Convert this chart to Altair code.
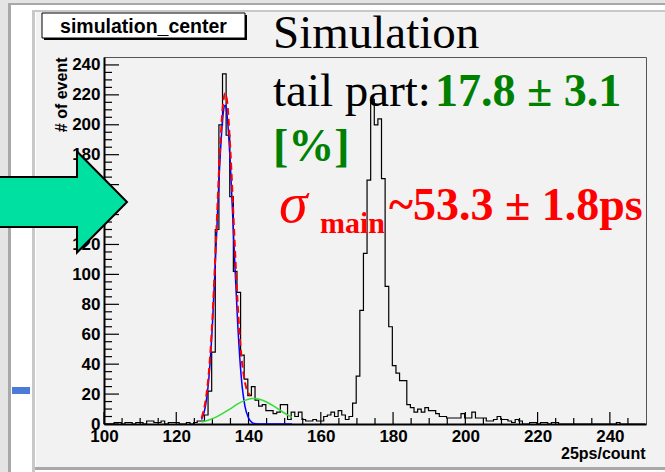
import altair as alt
import pandas as pd

# ---------------- data ----------------
bin_start = 99.8          # left edge of the first 1-unit bin
bin_width = 1.0
counts = [
    0, 0, 0, 1, 1, 0, 1, 1, 0, 1,            # 100-109
    1, 0, 2, 2, 1, 1, 2, 0, 1, 1,            # 110-119
    1, 0, 0, 1, 0, 1, 2, 2, 6, 22,           # 120-129
    48, 130, 200, 234, 193, 152, 102, 88, 46, 30,   # 130-139
    19, 25, 16, 12, 13, 9, 9, 7, 8, 13,      # 140-149
    13, 3, 8, 5, 8, 3, 2, 2, 3, 2,           # 150-159
    2, 5, 6, 8, 5, 9, 6, 3, 5, 14,           # 160-169
    32, 76, 114, 163, 217, 200, 204, 164, 92, 65,   # 170-179
    39, 34, 29, 29, 13, 11, 8, 10, 8, 11,    # 180-189
    9, 9, 7, 5, 5, 4, 4, 4, 4, 7,            # 190-199
    4, 4, 8, 4, 4, 4, 2, 2, 3, 5,            # 200-209
    3, 3, 2, 1, 3, 2, 0, 0, 1, 1,            # 210-219
    0, 1, 1, 0, 1, 1, 0, 0, 0, 0,            # 220-229
    0, 0, 0, 0, 0, 0, 0, 0, 0, 0,            # 230-239
    0, 0, 1, 0, 0, 0, 0, 0, 0, 0,            # 240-249
]

# fit curves
main_x = [127, 128, 129, 130, 131, 132, 133, 133.5, 134, 135, 136, 137, 138, 139, 140, 141, 142, 143, 146, 149, 152]
main_y = [3, 11, 30, 66, 118, 172, 208, 213, 208, 172, 118, 67, 31, 12, 4, 1, 0.2, 0, 0, 0, 0]

tail_x = [127, 129, 131, 133, 135, 137, 139, 141, 143, 145, 147, 149, 151, 152]
tail_y = [1.4, 2.7, 4.6, 7.2, 10.3, 13.4, 15.8, 17.0, 16.5, 14.7, 11.9, 8.7, 5.8, 4.6]

total_x = [127, 128, 129, 130, 131, 132, 133, 133.5, 134, 135, 136, 137, 138, 139, 140, 140.5]
total_y = [4, 14, 34, 70, 123, 178, 215, 221, 217, 182, 130, 80, 46, 28, 20.5, 19]

x_major = [100, 120, 140, 160, 180, 200, 220, 240]
x_minor = [v for v in range(105, 250, 5) if v % 20 != 0]
y_major = [0, 20, 40, 60, 80, 100, 120, 140, 160, 180, 200, 220, 240]
y_minor = [v for v in range(5, 245, 5) if v % 20 != 0]

title_text = "simulation_center"
x_title = "25ps/count"
y_title = "# of event"

# ---------------- layout ----------------
W, H = 665, 472
OX, OY = 104, 57           # plot origin in the window
PW, PH = 542, 367          # plot size

def px(x):
    return x - OX

def py(y):
    return y - OY

one = pd.DataFrame({"k": [0]})
xs = alt.Scale(domain=[100, 250], nice=False, zero=False)
ys = alt.Scale(domain=[0, 245.3], nice=False, zero=False)

SANS = "Liberation Sans"
SERIF = "Liberation Serif"

x_axis = alt.Axis(values=x_major, format="d", ticks=False, tickSize=0, grid=False,
                  domainColor="black", domainWidth=2, labelFlush=False, labelOverlap=False,
                  labelFont=SANS, labelFontWeight="bold", labelFontSize=17, labelColor="black",
                  labelPadding=4, labelBaseline="top",
                  title=x_title, titleFont=SANS, titleFontWeight="bold", titleFontSize=16,
                  titleColor="black", titleX=PW - 1, titleY=34, titleAlign="right",
                  titleBaseline="alphabetic")
y_axis = alt.Axis(values=y_major, format="d", ticks=False, tickSize=0, grid=False,
                  domainColor="black", domainWidth=2, labelFlush=False, labelOverlap=False,
                  labelFont=SANS, labelFontWeight="bold", labelFontSize=17, labelColor="black",
                  labelPadding=4,
                  title=y_title, titleFont=SANS, titleFontWeight="bold", titleFontSize=16,
                  titleColor="black", titleAngle=270, titleX=61 - OX, titleY=0,
                  titleAlign="right", titleBaseline="middle")


def rect(x1, x2, y1, y2, **kw):
    return alt.Chart(one).mark_rect(**kw).encode(
        x=alt.value(px(x1)), x2=alt.value(px(x2)),
        y=alt.value(py(y1)), y2=alt.value(py(y2)))


def text(t, x, y, **kw):
    return alt.Chart(one).mark_text(text=t, align="left", baseline="alphabetic", **kw).encode(
        x=alt.value(px(x)), y=alt.value(py(y)))


# histogram (first layer: carries the axes)
hist_df = pd.DataFrame({
    "x": [bin_start + i * bin_width for i in range(len(counts) + 1)],
    "n": counts + [0],
})
hist = alt.Chart(hist_df).mark_line(interpolate="step-after", color="black",
                                    strokeWidth=1.2, clip=True).encode(
    x=alt.X("x:Q", scale=xs, axis=x_axis, title=x_title),
    y=alt.Y("n:Q", scale=ys, axis=y_axis, title=y_title),
)

# window decoration (kept outside the axis area)
deco = [
    rect(0, 36, 0, 472, color="white"),
    rect(0, 8, 0, 472, color="#e4e4e4"),
    rect(8, 11, 0, 472, color="#a8a8a8"),
    rect(32, 35, 10, 472, color="#c8c8c8"),
    rect(0, 665, 0, 3, color="#e4e4e4"),
    rect(8, 665, 3, 5, color="#a8a8a8"),
    rect(11, 665, 5, 10, color="white"),
    rect(32, 665, 10, 12, color="#c8c8c8"),
    rect(35, 665, 467, 470, color="#a8a8a8"),
    rect(35, 665, 470, 472, color="white"),
    rect(12, 30, 387, 394, color="#4a7bd6"),
]


def curve(xv, yv, **kw):
    return alt.Chart(pd.DataFrame({"x": xv, "y": yv})).mark_line(
        interpolate="monotone", clip=True, **kw).encode(
        x=alt.X("x:Q", scale=xs, axis=x_axis, title=x_title),
        y=alt.Y("y:Q", scale=ys, axis=y_axis, title=y_title))

main_fit = curve(main_x, main_y, color="#0000ff", strokeWidth=1.5)
tail_fit = curve(tail_x, tail_y, color="#33dd33", strokeWidth=1.5)
total_fit = curve(total_x, total_y, color="#ff0000", strokeWidth=2, strokeDash=[7, 4])


# inward ticks
def yticks(vals, length):
    return alt.Chart(pd.DataFrame({"v": vals})).mark_rule(color="black", strokeWidth=1.2).encode(
        y=alt.Y("v:Q", scale=ys, axis=y_axis, title=y_title), x=alt.value(0), x2=alt.value(length))

def xticks(vals, length):
    return alt.Chart(pd.DataFrame({"v": vals})).mark_rule(color="black", strokeWidth=1.2).encode(
        x=alt.X("v:Q", scale=xs, axis=x_axis, title=x_title), y=alt.value(PH), y2=alt.value(PH - length))

ticks = [yticks(y_major, 15), yticks(y_minor, 8), xticks(x_major, 12), xticks(x_minor, 6)]

# title box
title_box = [
    rect(44, 247, 15, 40, color="black"),
    rect(42, 245, 13, 38, fill="white", stroke="black", strokeWidth=1),
    alt.Chart(one).mark_text(text=title_text, align="center", baseline="alphabetic",
                             font=SANS, fontWeight="bold", fontSize=19.5, color="black").encode(
        x=alt.value(px(143.5)), y=alt.value(py(32.5))),
]

# annotations
annots = [
    text("Simulation", 273, 48, font=SERIF, fontSize=47, color="black"),
    text("tail part:", 273, 106, font=SERIF, fontSize=47, color="black"),
    text("17.8 \u00b1 3.1", 435, 106, font=SERIF, fontSize=46, fontWeight="bold", color="#008000"),
    text("[%]", 273, 161, font=SERIF, fontSize=46, fontWeight="bold", color="#008000"),
    text("\u03c3", 279, 222, font=SERIF, fontSize=58, fontStyle="italic", color="#ff0000"),
    text("main", 320, 233, font=SERIF, fontSize=30, fontWeight="bold", color="#ff0000"),
    text("~53.3 \u00b1 1.8ps", 389, 220, font=SERIF, fontSize=46, fontWeight="bold", color="#ff0000"),
]

# big arrow (custom symbol in unit box, scaled by sqrt(size)/2)
arrow_path = ("M -1.2 -0.394 L 0.213 -0.394 L 0.213 -0.795 L 1 0 "
              "L 0.213 0.795 L 0.213 0.394 L -1.2 0.394 Z")
arrow = alt.Chart(one).mark_point(shape=arrow_path, size=127 * 127, filled=True,
                                  color="#00e0a0", stroke="black", strokeWidth=2,
                                  opacity=1).encode(
    x=alt.value(px(63.5)), y=alt.value(py(202)))

layers = [hist] + deco + ticks + [main_fit, total_fit, tail_fit] + annots + title_box + [arrow]

chart = alt.layer(*layers).properties(
    width=PW, height=PH,
    padding={"left": OX, "top": OY, "right": W - OX - PW, "bottom": H - OY - PH},
    autosize=alt.AutoSizeParams(type="none"),
    background="#f2f2f2",
).configure_view(stroke="#555555", strokeWidth=1)

chart.save("out.html", embed_options={"renderer": "svg", "actions": False})
